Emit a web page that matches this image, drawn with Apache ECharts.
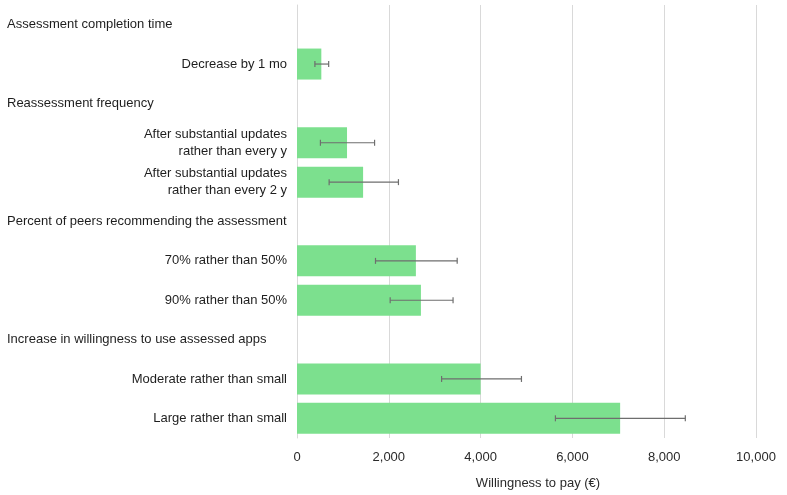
<!DOCTYPE html>
<html>
<head>
<meta charset="utf-8">
<script src="https://cdn.jsdelivr.net/npm/echarts@6/dist/echarts.min.js"></script>
<style>
  html, body { margin: 0; padding: 0; background: #fff; }
  #chart { width: 787px; height: 495px; }
</style>
</head>
<body>
<div id="chart"></div>
<script>
// rows top to bottom; header rows carry no bar
const categories = [
  'Assessment completion time',
  'Decrease by 1 mo',
  'Reassessment frequency',
  'After substantial updates\nrather than every y',
  'After substantial updates\nrather than every 2 y',
  'Percent of peers recommending the assessment',
  '70% rather than 50%',
  '90% rather than 50%',
  'Increase in willingness to use assessed apps',
  'Moderate rather than small',
  'Large rather than small'
]
const headers = [
  'Assessment completion time',
  'Reassessment frequency',
  'Percent of peers recommending the assessment',
  'Increase in willingness to use assessed apps'
]
const wtp = [null, 530, null, 1090, 1440, null, 2590, 2700, null, 4000, 7040]
const ciLow = [null, 390, null, 510, 700, null, 1710, 2030, null, 3150, 5630]
const ciHigh = [null, 690, null, 1690, 2210, null, 3490, 3400, null, 4890, 8460]

const errData = categories
  .map((c, i) => [i, ciLow[i], ciHigh[i]])
  .filter(d => d[1] != null)

const chart = echarts.init(document.getElementById('chart'))

chart.setOption({
  animation: false,
  textStyle: { fontFamily: 'Liberation Sans, Arial, sans-serif' },
  grid: { left: 297, right: 31, top: 5, bottom: 53, containLabel: false },
  xAxis: {
    type: 'value',
    min: 0,
    max: 10000,
    interval: 2000,
    axisLine: { show: false },
    axisTick: { show: false },
    splitLine: { lineStyle: { color: '#d9d9d9', width: 1 } },
    axisLabel: {
      color: '#2a2a2a',
      fontSize: 13,
      margin: 13,
      formatter: v => v.toLocaleString('en-US')
    },
    name: 'Willingness to pay (€)',
    nameLocation: 'middle',
    nameGap: 39,
    nameTextStyle: { color: '#2a2a2a', fontSize: 13, padding: [0, 0, 0, 23] }
  },
  yAxis: {
    type: 'category',
    inverse: true,
    data: categories,
    axisLine: { show: true, lineStyle: { color: '#d9d9d9' } },
    axisTick: { show: false },
    axisLabel: {
      color: '#1e1e1e',
      fontSize: 13,
      margin: 10,
      lineHeight: 17,
      formatter: v => headers.includes(v) ? '{h|' + v + '}' : v,
      rich: {
        h: { width: 280, align: 'left', fontSize: 13, color: '#1e1e1e' }
      }
    }
  },
  series: [
    {
      type: 'bar',
      data: wtp,
      barWidth: 31,
      itemStyle: { color: '#7ce08e' },
      z: 2
    },
    {
      type: 'custom',
      data: errData,
      z: 3,
      renderItem: (params, api) => {
        const a = api.coord([api.value(1), api.value(0)])
        const b = api.coord([api.value(2), api.value(0)])
        const st = { stroke: '#6e6e6e', lineWidth: 1.2 }
        return {
          type: 'group',
          children: [
            { type: 'line', shape: { x1: a[0], y1: a[1], x2: b[0], y2: b[1] }, style: st },
            { type: 'line', shape: { x1: a[0], y1: a[1] - 3, x2: a[0], y2: a[1] + 3 }, style: st },
            { type: 'line', shape: { x1: b[0], y1: b[1] - 3, x2: b[0], y2: b[1] + 3 }, style: st }
          ]
        }
      },
      encode: { x: [1, 2], y: 0 }
    }
  ]
})
</script>
</body>
</html>
